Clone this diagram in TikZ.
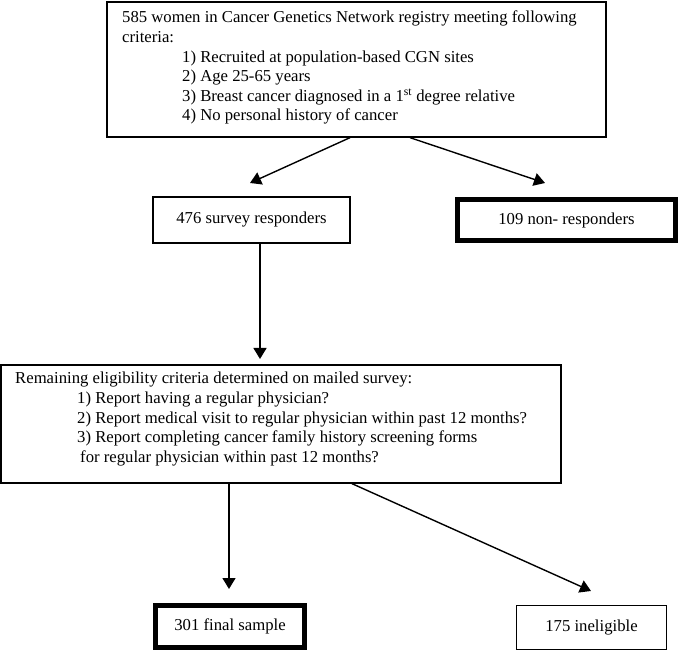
\documentclass[tikz,border=0pt]{standalone}
\usepackage{fontspec}
\setmainfont{Liberation Serif}
\usetikzlibrary{arrows.meta,calc}
\begin{document}
\begin{tikzpicture}[x=1pt,y=1pt,
  box/.style={draw,line width=1.3pt,inner sep=0pt,minimum width=#1},
  thickbox/.style={draw,line width=5pt,inner sep=0pt,minimum width=#1},
  txt/.style={inner sep=0pt,anchor=north west,align=left,font=\fontsize{16.7}{19.6}\selectfont},
  ctxt/.style={inner sep=0pt,font=\fontsize{16.7}{19.6}\selectfont},
  arr/.style={line width=1.4pt,-{Triangle[length=11pt,width=13pt]}}]
\useasboundingbox (0,0) rectangle (685,654);
% boxes
\node[box=499pt,minimum height=135pt] (b1) at (356.5,584.5) {};
\node[txt] (b1t) at (122,645) {\strut 585 women in Cancer Genetics Network registry meeting following\\
criteria:\\
\hspace*{60pt}1) Recruited at population-based CGN sites\\
\hspace*{60pt}2) Age 25-65 years\\
\hspace*{60pt}3) Breast cancer diagnosed in a 1\textsuperscript{st} degree relative\\
\hspace*{60pt}4) No personal history of cancer};
\node[box=197pt,minimum height=46pt] (b2) at (251.5,434) {};
\node[ctxt] (b2t) at (b2) {476 survey responders};
\node[thickbox=218pt,minimum height=41pt] (b3) at (566.5,434) {};
\node[ctxt] (b3t) at (b3) {109 non- responders};
\node[box=560pt,minimum height=118pt] (b4) at (281,230) {};
\node[txt] (b4t) at (15,284) {\strut Remaining eligibility criteria determined on mailed survey:\\
\hspace*{62pt}1) Report having a regular physician?\\
\hspace*{62pt}2) Report medical visit to regular physician within past 12 months?\\
\hspace*{62pt}3) Report completing cancer family history screening forms\\
\hspace*{65pt}for regular physician within past 12 months?};
\node[thickbox=149pt,minimum height=42pt] (b5) at (230,27.5) {};
\node[ctxt] (b5t) at (b5) {301 final sample};
\node[box=150pt,minimum height=44pt] (b6) at (591.5,26.5) {};
\node[ctxt] (b6t) at (b6) {175 ineligible};
% arrow tips
\coordinate (t1) at (250,471);
\coordinate (t2) at (545,471);
\coordinate (t3) at (260,295);
\coordinate (t4) at (229,65);
\coordinate (t5) at (591,63);
\draw[arr] ([xshift=-6.5pt]b1.south) -- (t1);
\draw[arr] ([xshift=53.5pt]b1.south) -- (t2);
\draw[arr] ([xshift=8.5pt]b2.south) -- (t3);
\draw[arr] ([xshift=-52pt]b4.south) -- (t4);
\draw[arr] ([xshift=71pt]b4.south) -- (t5);
\end{tikzpicture}
\end{document}
